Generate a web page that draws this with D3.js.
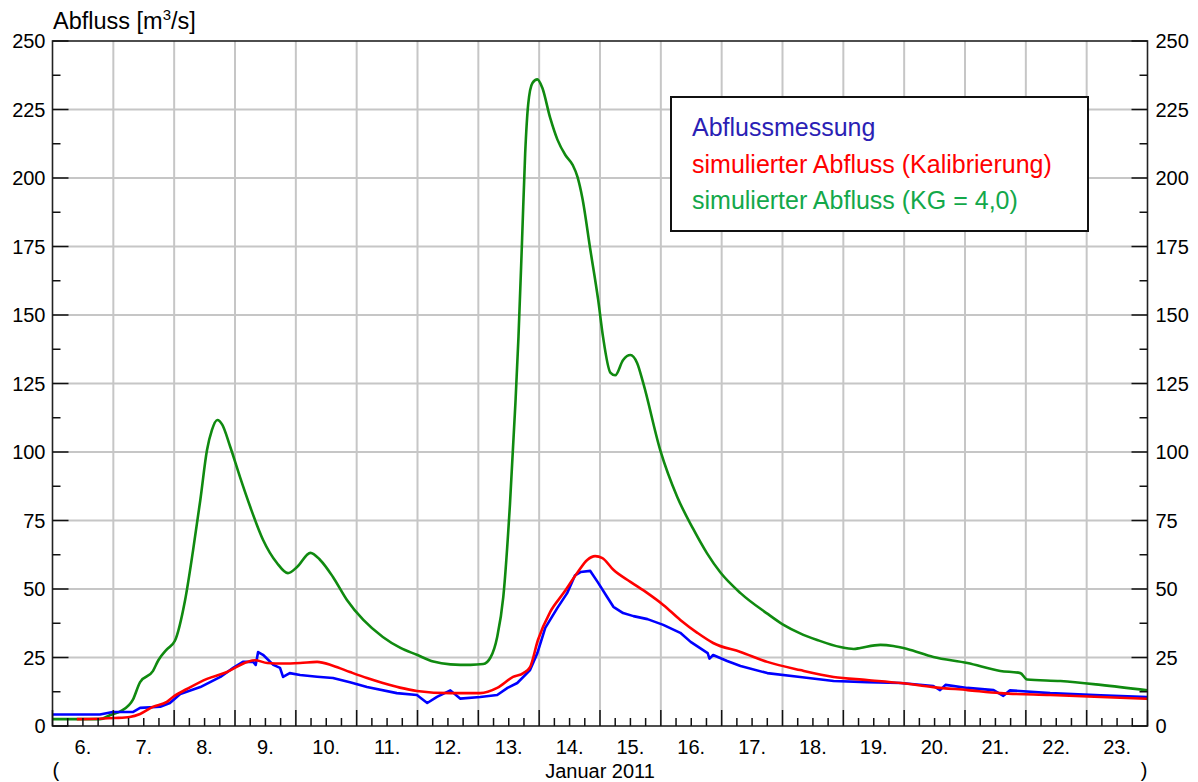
<!DOCTYPE html>
<html>
<head>
<meta charset="utf-8">
<script src="https://d3js.org/d3.v7.min.js"></script>
<style>
  body { margin: 0; background: white; }
  text { font-family: "Liberation Sans", Arial, sans-serif; }
</style>
</head>
<body>
<svg id="chart" width="1198" height="782"></svg>
<script>
// days of January 2011 (fractional), discharge in m3/s
const dayLabels = ["6.", "7.", "8.", "9.", "10.", "11.", "12.", "13.", "14.", "15.", "16.", "17.", "18.", "19.", "20.", "21.", "22.", "23."];
const yTicks = [0, 25, 50, 75, 100, 125, 150, 175, 200, 225, 250];

const gruenDays = [6.00, 6.78, 6.95, 7.13, 7.32, 7.44, 7.65, 7.74, 7.88, 8.01, 8.18, 8.31, 8.43, 8.54, 8.62, 8.71, 8.79, 8.92, 9.08, 9.25, 9.46, 9.69, 9.87, 10.02, 10.24, 10.40, 10.61, 10.84, 11.11, 11.43, 11.72, 11.99, 12.26, 12.54, 12.87, 13.08, 13.20, 13.31, 13.41, 13.52, 13.61, 13.66, 13.72, 13.77, 13.82, 13.89, 13.97, 14.05, 14.18, 14.30, 14.43, 14.55, 14.63, 14.71, 14.84, 14.97, 15.05, 15.17, 15.25, 15.38, 15.50, 15.61, 15.71, 15.99, 16.27, 16.53, 16.76, 16.98, 17.31, 17.75, 18.01, 18.29, 18.57, 18.95, 19.17, 19.28, 19.61, 19.82, 20.05, 20.48, 21.04, 21.58, 21.91, 22.02, 22.57, 23.23, 24.00];
const gruenVals = [2.5, 2.5, 4.0, 5.5, 9.5, 16, 20, 24, 28, 31, 46, 64, 82.5, 100.7, 108, 111.7, 110, 102, 91, 80, 68, 59.5, 55.8, 58, 63.2, 60.6, 54.4, 46, 38.7, 32.5, 28.5, 26, 23.5, 22.5, 22.3, 22.6, 25, 32.5, 47, 81, 118, 142, 178, 209, 227, 234.7, 236, 233, 222, 214, 208.4, 204.8, 200.4, 192.7, 174, 155.5, 142, 129, 128, 133.6, 135.4, 132.5, 125.2, 100.7, 83.6, 72, 63, 56, 48.5, 41, 37, 33.8, 31.4, 28.8, 28.1, 28.5, 29.6, 29.2, 28.1, 25.2, 23, 20.1, 19.3, 17, 16.4, 15, 13];

const rotDays = [6.40, 7.03, 7.27, 7.44, 7.65, 7.88, 7.98, 8.21, 8.54, 8.87, 9.20, 9.33, 9.53, 9.79, 10.07, 10.35, 10.61, 10.89, 11.17, 11.43, 11.71, 11.99, 12.54, 13.03, 13.31, 13.57, 13.74, 13.85, 13.98, 14.18, 14.40, 14.63, 14.79, 14.92, 15.04, 15.22, 15.50, 15.78, 16.04, 16.32, 16.60, 16.86, 17.31, 17.75, 18.29, 18.84, 19.39, 19.94, 20.48, 21.04, 21.58, 22.40, 23.23, 24.00];
const rotVals = [2.5, 2.9, 3.3, 4.4, 7, 8.8, 10.6, 13.5, 17.2, 19.7, 23.4, 24, 23, 22.8, 23, 23.4, 22, 19.7, 17.5, 15.7, 14, 12.8, 12, 12, 13.9, 17.9, 19.3, 21.5, 31.4, 41.6, 48.5, 56, 60.6, 62, 61.3, 57, 52.6, 48.5, 44.2, 38.7, 34, 30.3, 27, 23.4, 20.4, 17.9, 16.8, 15.7, 14.2, 13.1, 12, 11.3, 10.6, 9.9];

const blauDays = [6.00, 6.78, 6.99, 7.32, 7.44, 7.77, 7.93, 8.10, 8.43, 8.76, 8.97, 9.13, 9.30, 9.34, 9.38, 9.46, 9.63, 9.74, 9.79, 9.90, 10.07, 10.35, 10.61, 10.89, 11.17, 11.66, 11.99, 12.16, 12.32, 12.54, 12.70, 13.03, 13.31, 13.48, 13.64, 13.85, 13.97, 14.10, 14.30, 14.46, 14.59, 14.68, 14.84, 14.96, 15.12, 15.22, 15.38, 15.55, 15.78, 16.04, 16.32, 16.49, 16.77, 16.80, 16.86, 17.09, 17.31, 17.75, 18.29, 18.84, 19.39, 19.94, 20.48, 20.59, 20.68, 21.04, 21.47, 21.63, 21.74, 22.40, 23.23, 24.00];
const blauVals = [4.2, 4.2, 5.1, 5.1, 6.6, 7, 8.4, 11.7, 14.2, 17.9, 21.2, 23.4, 23.4, 22.3, 27, 26, 22.3, 21.2, 17.9, 19.3, 18.6, 18, 17.5, 16, 14.2, 12, 11.3, 8.4, 10.6, 13, 10, 10.6, 11.3, 13.9, 15.7, 20.4, 26.6, 35.8, 43.1, 48.5, 55, 56.2, 56.6, 52.6, 47, 43.5, 41.2, 40.1, 39, 36.9, 34, 30.7, 26.6, 24.6, 25.9, 23.7, 21.9, 19.3, 17.9, 16.4, 16, 15.7, 14.6, 13.1, 15, 13.9, 13.1, 11, 13, 12, 11.2, 10.6];

const legendLabels = ["Abflussmessung", "simulierter Abfluss (Kalibrierung)", "simulierter Abfluss (KG = 4,0)"];
const legendColors = ["#2b1fb5", "#ff0000", "#13a84a"];

const svg = d3.select("#chart");
const plotLeft = 52.5, plotRight = 1147.5, plotTop = 41, plotBottom = 726;

const x = d3.scaleLinear().domain([6, 24]).range([plotLeft, plotRight]);
const y = d3.scaleLinear().domain([0, 250]).range([plotBottom, plotTop]);

// grid
svg.append("g").selectAll("line")
  .data(d3.range(7, 24))
  .join("line")
  .attr("x1", d => x(d)).attr("x2", d => x(d))
  .attr("y1", plotTop).attr("y2", plotBottom)
  .attr("stroke", "#c6c6c6").attr("stroke-width", 2);
svg.append("g").selectAll("line")
  .data(yTicks.slice(1, -1))
  .join("line")
  .attr("x1", plotLeft).attr("x2", plotRight)
  .attr("y1", d => y(d)).attr("y2", d => y(d))
  .attr("stroke", "#c6c6c6").attr("stroke-width", 2);

// series
const line = d3.line().x(d => x(d[0])).y(d => y(d[1]));
function draw(days, vals, color, curve) {
  svg.append("path")
    .datum(days.map((d, i) => [d, vals[i]]))
    .attr("d", line.curve(curve))
    .attr("fill", "none")
    .attr("stroke", color)
    .attr("stroke-width", 2.6)
    .attr("stroke-linejoin", "round");
}
draw(gruenDays, gruenVals, "#108a10", d3.curveMonotoneX);
draw(blauDays, blauVals, "#0000ff", d3.curveLinear);
draw(rotDays, rotVals, "#ff0000", d3.curveMonotoneX);

// frame
svg.append("rect")
  .attr("x", plotLeft).attr("y", plotTop)
  .attr("width", plotRight - plotLeft).attr("height", plotBottom - plotTop)
  .attr("fill", "none").attr("stroke", "#222").attr("stroke-width", 1.6);

// y ticks (inward) both sides
const yMinor = d3.range(12.5, 250, 25);
[[plotLeft, 1], [plotRight, -1]].forEach(([x0, dir]) => {
  svg.append("g").selectAll("line").data(yTicks).join("line")
    .attr("x1", x0).attr("x2", x0 + dir * 16)
    .attr("y1", d => y(d)).attr("y2", d => y(d))
    .attr("stroke", "#111").attr("stroke-width", 1.5);
  svg.append("g").selectAll("line").data(yMinor).join("line")
    .attr("x1", x0).attr("x2", x0 + dir * 8)
    .attr("y1", d => y(d)).attr("y2", d => y(d))
    .attr("stroke", "#111").attr("stroke-width", 1.5);
});

// x ticks (inward from bottom)
svg.append("g").selectAll("line").data(d3.range(6, 24.01, 0.25)).join("line")
  .attr("x1", d => x(d)).attr("x2", d => x(d))
  .attr("y1", plotBottom).attr("y2", d => plotBottom - (Number.isInteger(d) ? 16 : 8))
  .attr("stroke", "#111").attr("stroke-width", 1.5);

// labels
svg.append("g").selectAll("text").data(yTicks).join("text")
  .attr("x", plotLeft - 7).attr("y", d => y(d) + 7)
  .attr("text-anchor", "end").attr("font-size", 20).text(d => d);
svg.append("g").selectAll("text").data(yTicks).join("text")
  .attr("x", plotRight + 8).attr("y", d => y(d) + 7)
  .attr("text-anchor", "start").attr("font-size", 20).text(d => d);

svg.append("g").selectAll("text").data(dayLabels).join("text")
  .attr("x", (d, i) => x(6 + i + 0.5)).attr("y", 754)
  .attr("text-anchor", "middle").attr("font-size", 20).text(d => d);

svg.append("text").attr("x", plotLeft).attr("y", 777).attr("font-size", 20).text("(");
svg.append("text").attr("x", plotRight).attr("y", 777).attr("text-anchor", "end").attr("font-size", 20).text(")");
svg.append("text").attr("x", 600).attr("y", 778).attr("text-anchor", "middle").attr("font-size", 20).text("Januar 2011");

const title = svg.append("text").attr("x", 53).attr("y", 29).attr("font-size", 23.5);
title.append("tspan").text("Abfluss [m");
title.append("tspan").attr("font-size", 15).attr("dy", -9).text("3");
title.append("tspan").attr("dy", 9).text("/s]");

// legend
svg.append("rect")
  .attr("x", 671).attr("y", 97).attr("width", 417).attr("height", 134)
  .attr("fill", "white").attr("stroke", "#111").attr("stroke-width", 2);
svg.append("g").selectAll("text").data(legendLabels).join("text")
  .attr("x", 692).attr("y", (d, i) => 136 + i * 36.5)
  .attr("font-family", "Lato, 'Noto Sans', sans-serif")
  .attr("font-size", 25)
  .attr("fill", (d, i) => legendColors[i])
  .text(d => d);
</script>
</body>
</html>
